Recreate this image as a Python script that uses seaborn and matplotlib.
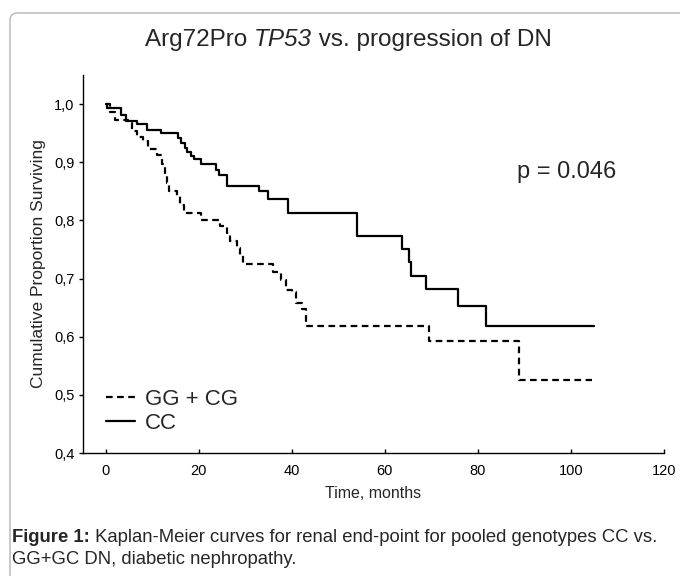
import matplotlib
matplotlib.use("Agg")
import matplotlib.pyplot as plt
from matplotlib.patches import FancyBboxPatch
import seaborn as sns
import pandas as pd

# --- data (months, cumulative proportion surviving) ---
gg_time = [0, 1.0, 2.0, 4.9, 5.6, 6.7, 8.1, 9.2, 11.0, 12.1, 12.8, 13.3, 13.6,
           15.3, 16.0, 16.9, 20.6, 24.6, 26.0, 26.7, 28.2, 28.9, 29.6, 36.0,
           37.8, 38.7, 40.0, 41.0, 42.2, 43.0, 69.6, 88.9, 104.5]
gg_surv = [1.0, 0.987, 0.973, 0.967, 0.953, 0.944, 0.937, 0.922, 0.912, 0.897,
           0.876, 0.864, 0.850, 0.842, 0.827, 0.813, 0.800, 0.791, 0.778, 0.764,
           0.752, 0.741, 0.725, 0.711, 0.698, 0.681, 0.677, 0.658, 0.647, 0.619,
           0.592, 0.525, 0.525]

cc_time = [0, 0.3, 3.4, 4.3, 6.8, 9.0, 11.9, 15.6, 16.3, 17.0, 17.6, 18.3, 19.0,
           20.5, 23.7, 24.4, 26.0, 33.0, 34.9, 39.3, 54.0, 63.8, 65.2, 65.6,
           68.9, 75.8, 81.7, 105.0]
cc_surv = [1.0, 0.994, 0.981, 0.971, 0.965, 0.955, 0.950, 0.941, 0.933, 0.925,
           0.917, 0.910, 0.905, 0.897, 0.887, 0.878, 0.859, 0.851, 0.837, 0.8125,
           0.7725, 0.750, 0.728, 0.705, 0.682, 0.652, 0.619, 0.619]

x_ticks = [0, 20, 40, 60, 80, 100, 120]
y_ticks = [0.4, 0.5, 0.6, 0.7, 0.8, 0.9, 1.0]
y_tick_labels = ["0,4", "0,5", "0,6", "0,7", "0,8", "0,9", "1,0"]

sns.set_theme(style="white")
plt.rcParams["font.family"] = ["Liberation Sans", "DejaVu Sans"]

fig = plt.figure(figsize=(6.8, 5.76), dpi=100)
fig.patch.set_facecolor("white")

# rounded frame around the figure
frame = FancyBboxPatch((10 / 680, -0.1), 1.2, 1.1 - 13 / 576,
                       boxstyle="round,pad=0,rounding_size=0.012",
                       transform=fig.transFigure, fill=False,
                       edgecolor="#b5b5b5", linewidth=1.0)
fig.patches.append(frame)

ax = fig.add_axes([82.7 / 680, 123 / 576, 581.3 / 680, 378 / 576])

gg = pd.DataFrame({"time": gg_time, "surv": gg_surv})
cc = pd.DataFrame({"time": cc_time, "surv": cc_surv})

sns.lineplot(data=gg, x="time", y="surv", estimator=None, sort=False,
             drawstyle="steps-post", color="black", linewidth=1.6,
             linestyle=(0, (3.0, 2.0)), label="GG + CG", ax=ax)
sns.lineplot(data=cc, x="time", y="surv", estimator=None, sort=False,
             drawstyle="steps-post", color="black", linewidth=1.6,
             label="CC", ax=ax)

ax.set_xlim(-4.9, 120)
ax.set_ylim(0.4, 1.05)
ax.set_xticks(x_ticks)
ax.set_yticks(y_ticks, labels=y_tick_labels)
for s in ["top", "right"]:
    ax.spines[s].set_visible(False)
for s in ["left", "bottom"]:
    ax.spines[s].set_color("black")
    ax.spines[s].set_linewidth(1.0)
ax.tick_params(axis="x", direction="in", length=3, width=1, colors="black",
               labelsize=10.5, pad=8)
ax.tick_params(axis="y", direction="out", length=3, width=1, colors="black",
               labelsize=10.5, pad=3)
ax.tick_params(axis="both", left=True, bottom=True)

ax.set_xlabel("Time, months", fontsize=11.5, labelpad=6)
ax.set_ylabel("Cumulative Proportion Surviving", fontsize=12.5, labelpad=6)

ax.legend(loc="center left", bbox_to_anchor=(0.04, 0.11), frameon=False,
          fontsize=16, handlelength=1.3, handletextpad=0.45,
          labelspacing=0.12, borderpad=0, borderaxespad=0)

ax.text(0.833, 0.743, "p = 0.046", transform=ax.transAxes, fontsize=17,
        ha="center", va="center")

# title with italic gene name, built from three pieces and centred
renderer = fig.canvas.get_renderer()
title_parts = [("Arg72Pro ", "normal"), ("TP53", "italic"),
               (" vs. progression of DN", "normal")]
pieces = [fig.text(0, 1 - 40 / 576, txt, fontsize=17.5, fontstyle=st,
                   ha="left", va="center") for txt, st in title_parts]
widths = [p.get_window_extent(renderer).width for p in pieces]
x0 = 348 - sum(widths) / 2
for p, w in zip(pieces, widths):
    p.set_x(x0 / 680)
    x0 += w

# caption
t1 = fig.text(12 / 680, 1 - 537 / 576, "Figure 1:", fontsize=13.3,
              fontweight="bold", ha="left", va="center")
ax.annotate(" Kaplan-Meier curves for renal end-point for pooled genotypes CC vs.",
            xy=(1, 0.5), xycoords=t1, fontsize=13.3, ha="left", va="center",
            annotation_clip=False)
fig.text(12 / 680, 1 - 560 / 576, "GG+GC DN, diabetic nephropathy.",
         fontsize=13.3, ha="left", va="center")

fig.savefig("out.png", dpi=100, facecolor="white")
